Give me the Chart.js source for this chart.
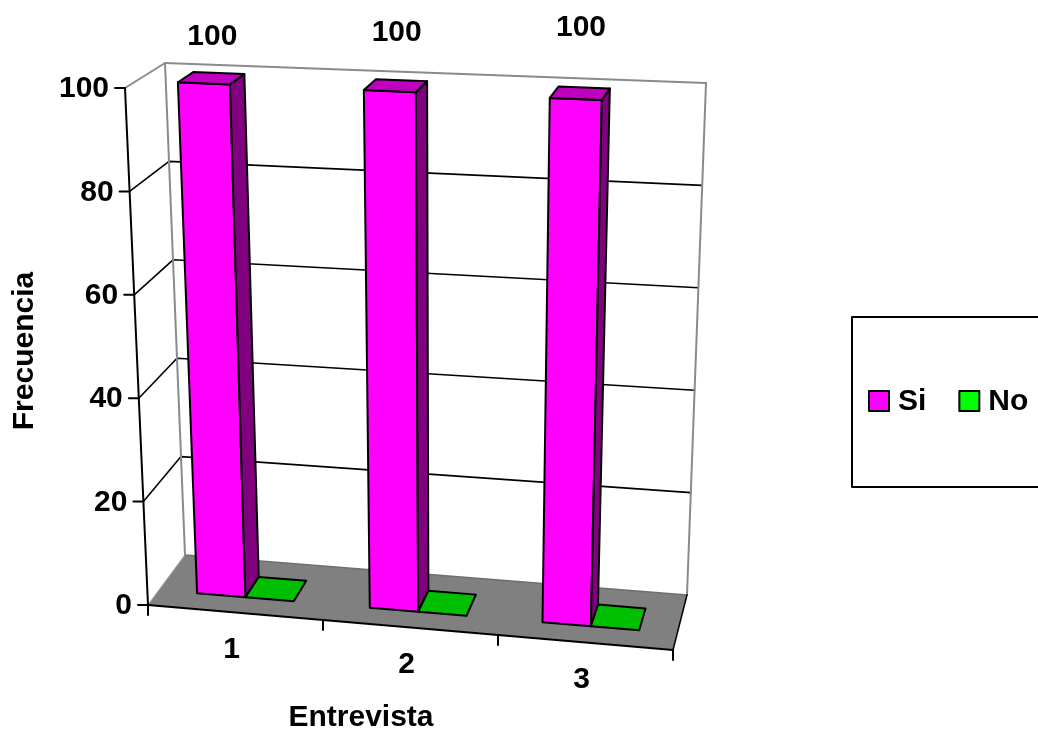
<!DOCTYPE html>
<html>
<head>
<meta charset="utf-8">
<script src="https://cdn.jsdelivr.net/npm/chart.js@4.4.1/dist/chart.umd.min.js"></script>
<style>
  html, body { margin: 0; padding: 0; background: #ffffff; }
  #wrap { width: 1038px; height: 737px; }
</style>
</head>
<body>
<div id="wrap"><canvas id="chart" width="1038" height="737"></canvas></div>
<script>
// ---- data ----
const categories = ['1', '2', '3'];
const siValues = [100, 100, 100];
const noValues = [0, 0, 0];
const valueTicks = [0, 20, 40, 60, 80, 100];
const seriesNames = ['Si', 'No'];
const seriesColors = ['#FF00FF', '#00FF00'];
const xTitle = 'Entrevista';
const yTitle = 'Frecuencia';

// ---- 3D box: screen corners of the front (w=0) and back (w=1) planes ----
const box = {
  front: { lb: [148, 605], rb: [673, 650], lt: [125, 88], rt: [690, 113] },
  back:  { lb: [185, 555], rb: [687, 595], lt: [165, 63], rt: [706, 83] }
};
const barDepth = [0.3, 0.7];          // bars sit between these depths
const FONT = 'bold 30px "Liberation Sans", Arial, sans-serif';

function lerp(a, b, t) { return [a[0] + (b[0] - a[0]) * t, a[1] + (b[1] - a[1]) * t]; }
function plane(p, u, v) { return lerp(lerp(p.lb, p.rb, u), lerp(p.lt, p.rt, u), v); }
// u: along categories, v: value (0..1), w: depth (0 front .. 1 back)
function project(u, v, w) { return lerp(plane(box.front, u, v), plane(box.back, u, v), w); }

function shade(hex, k) {
  const n = parseInt(hex.slice(1), 16);
  const r = Math.round(((n >> 16) & 255) * k), g = Math.round(((n >> 8) & 255) * k), b = Math.round((n & 255) * k);
  return 'rgb(' + r + ',' + g + ',' + b + ')';
}

function poly(ctx, pts, fill, stroke, lw) {
  ctx.beginPath();
  ctx.moveTo(pts[0][0], pts[0][1]);
  for (let i = 1; i < pts.length; i++) ctx.lineTo(pts[i][0], pts[i][1]);
  ctx.closePath();
  if (fill) { ctx.fillStyle = fill; ctx.fill(); }
  if (stroke) { ctx.strokeStyle = stroke; ctx.lineWidth = lw; ctx.stroke(); }
}
function line(ctx, a, b, color, lw) {
  ctx.beginPath();
  ctx.moveTo(a[0], a[1]);
  ctx.lineTo(b[0], b[1]);
  ctx.strokeStyle = color;
  ctx.lineWidth = lw;
  ctx.stroke();
}

// maps a chart-area pixel into box coordinates
function toU(chart, px) { const a = chart.chartArea; return (px - a.left) / (a.right - a.left); }
function toV(chart, py) { const a = chart.chartArea; return (a.bottom - py) / (a.bottom - a.top); }

const scene3d = {
  id: 'scene3d',
  beforeDatasetsDraw(chart) {
    const ctx = chart.ctx;
    const xs = chart.scales.x, ys = chart.scales.y;
    ctx.save();
    ctx.lineCap = 'round';
    ctx.lineJoin = 'round';

    // floor
    poly(ctx, [project(0, 0, 0), project(1, 0, 0), project(1, 0, 1), project(0, 0, 1)], '#808080');

    // gridlines on side wall and back wall
    valueTicks.forEach(t => {
      const v = toV(chart, ys.getPixelForValue(t));
      if (v <= 0.001 || v >= 0.999) return;
      const a = project(0, v, 0), b = project(0, v, 1), c = project(1, v, 1);
      ctx.beginPath();
      ctx.moveTo(a[0], a[1]); ctx.lineTo(b[0], b[1]); ctx.lineTo(c[0], c[1]);
      ctx.strokeStyle = '#000000'; ctx.lineWidth = 1.6; ctx.stroke();
    });

    // wall edges
    const grey = '#8a8a8a';
    line(ctx, project(0, 1, 0), project(0, 1, 1), grey, 2);
    line(ctx, project(0, 1, 1), project(1, 1, 1), grey, 2);
    line(ctx, project(0, 0, 1), project(0, 1, 1), grey, 2);
    line(ctx, project(1, 0, 1), project(1, 1, 1), grey, 2);
    line(ctx, project(0, 0, 1), project(1, 0, 1), '#6e6e6e', 1.5);
    line(ctx, project(0, 0, 0), project(0, 0, 1), '#9a9a9a', 1.2);

    // value axis
    line(ctx, project(0, 0, 0), project(0, 1, 0), '#000000', 2);
    ctx.font = FONT;
    ctx.fillStyle = '#000000';
    ctx.textAlign = 'right';
    ctx.textBaseline = 'middle';
    valueTicks.forEach(t => {
      const v = toV(chart, ys.getPixelForValue(t));
      const p = project(0, v, 0);
      line(ctx, [p[0] - 10, p[1]], p, '#000000', 2);
      ctx.fillText(String(t), p[0] - 16, p[1] + 1);
    });

    // category axis
    line(ctx, project(0, 0, 0), project(1, 0, 0), '#000000', 2);
    line(ctx, project(1, 0, 0), project(1, 0, 1), '#000000', 1.5);
    const step = xs.getPixelForValue(1) - xs.getPixelForValue(0);
    for (let i = 0; i <= categories.length; i++) {
      const u = toU(chart, xs.getPixelForValue(0) - step / 2 + i * step);
      const p = project(u, 0, 0);
      line(ctx, p, [p[0], p[1] + 10], '#000000', 2);
    }
    ctx.textAlign = 'center';
    categories.forEach((c, i) => {
      const p = project(toU(chart, xs.getPixelForValue(i)), 0, 0);
      ctx.fillText(c, p[0] - 4, p[1] + 37);
    });

    // axis titles
    ctx.fillText(xTitle, 361, 718);
    ctx.save();
    ctx.translate(25, 351);
    ctx.rotate(-Math.PI / 2);
    ctx.fillText(yTitle, 0, 0);
    ctx.restore();

    ctx.restore();
  },
  beforeDatasetDraw() {
    return false; // bars are drawn as prisms below
  },
  afterDatasetsDraw(chart) {
    const ctx = chart.ctx;
    ctx.save();
    ctx.lineJoin = 'round';
    const metas = chart.data.datasets.map((d, i) => chart.getDatasetMeta(i));
    const labels = [];
    categories.forEach((c, ci) => {
      metas.forEach((meta, di) => {
        const el = meta.data[ci];
        const color = chart.data.datasets[di].backgroundColor;
        const half = el.width / 2;
        const u0 = toU(chart, el.x - half), u1 = toU(chart, el.x + half);
        const v = toV(chart, el.y);
        const w0 = barDepth[0], w1 = barDepth[1];
        if (v > 0.001) {
          poly(ctx, [project(u0, 0, w0), project(u1, 0, w0), project(u1, v, w0), project(u0, v, w0)], color, '#000000', 2);
          poly(ctx, [project(u1, 0, w0), project(u1, 0, w1), project(u1, v, w1), project(u1, v, w0)], shade(color, 0.5), '#000000', 2);
        }
        poly(ctx, [project(u0, v, w0), project(u1, v, w0), project(u1, v, w1), project(u0, v, w1)], shade(color, 0.75), '#000000', 2);
        if (di === 0) {
          const uc = (u0 + u1) / 2;
          const p = project(uc, v, 0.5);
          labels.push([String(chart.data.datasets[di].data[ci]), p[0] + 1, p[1] - (37 + 36 * uc)]);
        }
      });
    });

    // value labels
    ctx.font = FONT;
    ctx.fillStyle = '#000000';
    ctx.textAlign = 'center';
    ctx.textBaseline = 'middle';
    labels.forEach(l => ctx.fillText(l[0], l[1], l[2]));

    // legend
    ctx.strokeStyle = '#000000';
    ctx.lineWidth = 2;
    ctx.strokeRect(852, 317, 200, 170);
    let x = 869;
    const cy = 401;
    ctx.textAlign = 'left';
    chart.data.datasets.forEach(ds => {
      ctx.fillStyle = ds.backgroundColor;
      ctx.fillRect(x, cy - 10, 20, 20);
      ctx.strokeRect(x, cy - 10, 20, 20);
      ctx.fillStyle = '#000000';
      ctx.fillText(ds.label, x + 29, cy + 1);
      x += 29 + ctx.measureText(ds.label).width + 33;
    });
    ctx.restore();
  }
};

new Chart(document.getElementById('chart'), {
  type: 'bar',
  data: {
    labels: categories,
    datasets: [
      { label: seriesNames[0], data: siValues, backgroundColor: seriesColors[0] },
      { label: seriesNames[1], data: noValues, backgroundColor: seriesColors[1] }
    ]
  },
  options: {
    responsive: false,
    animation: false,
    devicePixelRatio: 1,
    layout: { padding: 0 },
    categoryPercentage: 0.56,
    barPercentage: 1.0,
    scales: {
      x: { display: false },
      y: { display: false, min: 0, max: 100 }
    },
    plugins: { legend: { display: false }, tooltip: { enabled: false } }
  },
  plugins: [scene3d]
});
</script>
</body>
</html>
